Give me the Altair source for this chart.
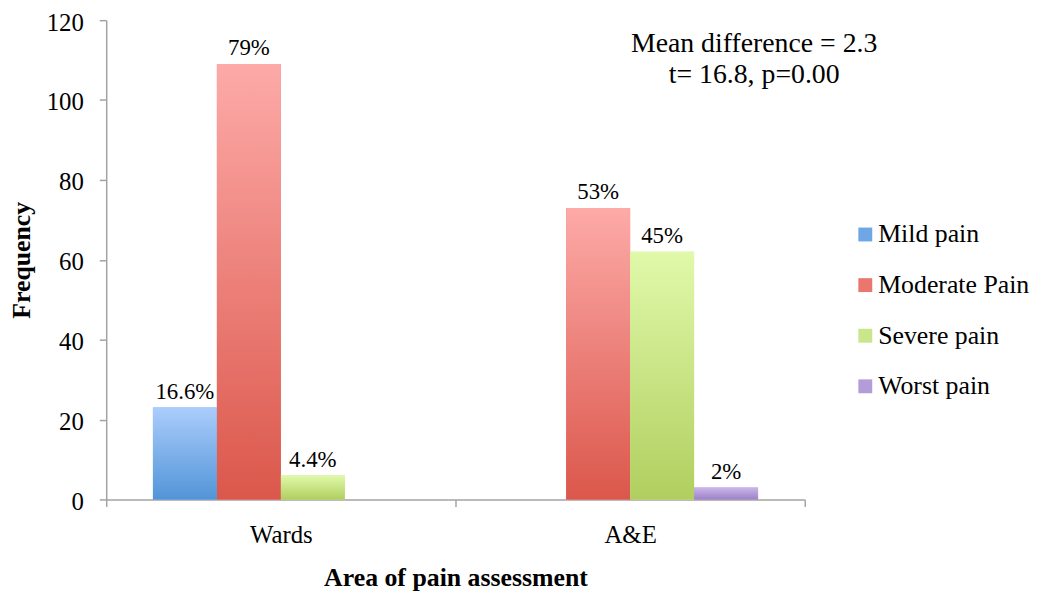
import altair as alt
import pandas as pd

# ---- data ----
areas = ["Wards", "Wards", "Wards", "A&E", "A&E", "A&E"]
severity = ["Mild pain", "Moderate Pain", "Severe pain", "Moderate Pain", "Severe pain", "Worst pain"]
frequency = [23, 109, 6, 73, 62, 3]
pct_labels = ["16.6%", "79%", "4.4%", "53%", "45%", "2%"]

area_order = ["Wards", "A&E"]
series = ["Mild pain", "Moderate Pain", "Severe pain", "Worst pain"]
top_colors = ["#abcdfc", "#fdaaa8", "#e0f9aa", "#cbb6e8"]
bottom_colors = ["#5294d8", "#db574b", "#b0cf5f", "#9c82c6"]
legend_colors = ["#6fa7e6", "#ea766e", "#c9e68a", "#b49cd8"]
y_ticks = [0, 20, 40, 60, 80, 100, 120]
note_lines = ["Mean difference = 2.3", "t= 16.8, p=0.00"]

df = pd.DataFrame({"area": areas, "severity": severity,
                   "frequency": frequency, "label": pct_labels})

FONT = "Liberation Serif"
AXIS_GREY = "#a3a3a3"

x_enc = alt.X(
    "area:N", sort=area_order,
    scale=alt.Scale(domain=area_order, paddingInner=0, paddingOuter=0),
    axis=alt.Axis(title="Area of pain assessment", labelAngle=0, tickBand="extent",
                  tickSize=7, labelPadding=16, titlePadding=18, titleFontSize=26),
)
xoff = alt.XOffset("severity:N",
                   scale=alt.Scale(domain=series, paddingInner=0, paddingOuter=0.73))
y_enc = alt.Y(
    "frequency:Q", scale=alt.Scale(domain=[0, 120]),
    axis=alt.Axis(title="Frequency", values=y_ticks, grid=False, tickSize=7,
                  labelPadding=16, titlePadding=12, labelOffset=2, titleFontSize=26),
)

base = alt.Chart(df)

legend_layer = base.mark_bar().encode(
    x=x_enc, xOffset=xoff, y=y_enc,
    color=alt.Color(
        "severity:N",
        scale=alt.Scale(domain=series, range=legend_colors),
        legend=alt.Legend(title=None, orient="none", legendX=752, legendY=203,
                          symbolType="square", symbolSize=196, symbolStrokeWidth=0,
                          labelFont=FONT, labelFontSize=26, labelColor="black",
                          labelOffset=0, rowPadding=25, padding=0),
    ),
)

grad_layers = []
for s, top, bot in zip(series, top_colors, bottom_colors):
    grad = alt.Gradient(
        gradient="linear", x1=0, y1=0, x2=0, y2=1,
        stops=[alt.GradientStop(color=top, offset=0),
               alt.GradientStop(color=bot, offset=1)],
    )
    grad_layers.append(
        base.transform_filter(alt.datum.severity == s)
        .mark_bar(fill=grad)
        .encode(x=x_enc, xOffset=xoff, y=y_enc)
    )

labels = base.mark_text(font=FONT, fontSize=23,
                        baseline="alphabetic", dy=-9, color="black").encode(
    x=x_enc, xOffset=xoff, y=y_enc, text="label:N")

chart = alt.layer(legend_layer, *grad_layers, labels).properties(
    width=704, height=483,
    autosize=alt.AutoSizeParams(type="none"),
    padding={"left": 99, "top": 10, "right": 228, "bottom": 90},
    title=alt.Title(text=note_lines, font=FONT, fontSize=28, fontWeight="normal",
                    anchor="middle", align="center", dx=301, orient="top",
                    offset=-79, lineHeight=31, color="black"),
).configure_view(stroke=None).configure_axis(
    labelFont=FONT, labelFontSize=25, labelColor="black",
    titleFont=FONT, titleFontSize=26, titleFontWeight="bold", titleColor="black",
    domainColor=AXIS_GREY, tickColor=AXIS_GREY, domainWidth=1.5, tickWidth=1.5,
)

chart.save("out.html", embed_options={"renderer": "svg", "actions": False})
